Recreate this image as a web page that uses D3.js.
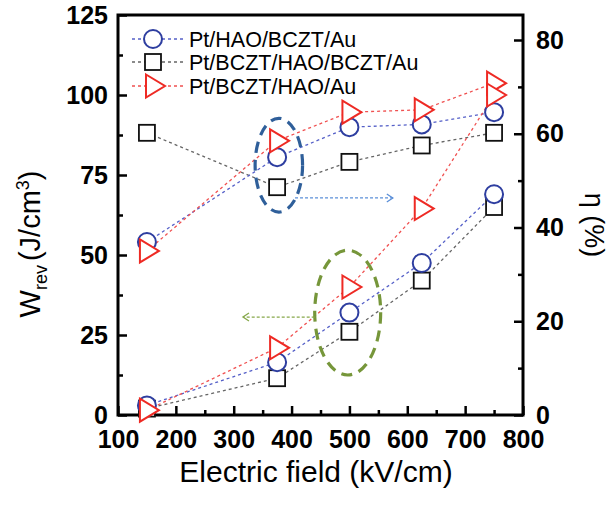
<!DOCTYPE html>
<html>
<head>
<meta charset="utf-8">
<script src="https://cdn.jsdelivr.net/npm/d3@7"></script>
<style>
  body { margin: 0; background: #fff; }
  svg { font-family: "Liberation Sans", Arial, sans-serif; }
  .tick text { font-weight: bold; font-size: 25px; fill: #000; }
  .tick line { stroke: #000; stroke-width: 2.5; }
  .domain { display: none; }
</style>
</head>
<body>
<div id="chart"></div>
<script>
// field values (kV/cm)
const fieldKV = [150, 375, 500, 625, 750];
const seriesNames = ["Pt/HAO/BCZT/Au", "Pt/BCZT/HAO/BCZT/Au", "Pt/BCZT/HAO/Au"];

// recoverable energy density W_rev (J/cm3), left axis
const wrevHaoBczt = [3, 16.5, 32, 47.5, 69];
const wrevSandwich = [2, 11.5, 26, 42, 65];
const wrevBcztHao = [1.5, 21, 40, 64.5, 100];

// efficiency eta (%), right axis
const etaHaoBczt = [36.9, 55.0, 61.4, 62, 64.6];
const etaSandwich = [60.2, 48.6, 54.0, 57.5, 60.2];
const etaBcztHao = [35.0, 58.5, 64.6, 65.1, 70.8];

// tick values
const xMajor = [100, 200, 300, 400, 500, 600, 700, 800];
const xMinor = [150, 250, 350, 450, 550, 650, 750];
const wMajor = [0, 25, 50, 75, 100, 125];
const wMinor = [12.5, 37.5, 62.5, 87.5, 112.5];
const etaMajor = [0, 20, 40, 60, 80];
const etaMinor = [10, 30, 50, 70];

// annotations (data units)
const etaOval = { field: 378, eta: 53.3, rField: 41, rEta: 10 };
const wOval = { field: 497, w: 32, rField: 57, rW: 19.5 };
const etaArrow = { from: 406, to: 575, eta: 46.3 };
const wArrow = { from: 440, to: 316, w: 30.6 };

const width = 612, height = 510;
const margin = { top: 15, right: 89, bottom: 95, left: 118 };

const svg = d3.select("#chart").append("svg")
  .attr("width", width)
  .attr("height", height);

const x = d3.scaleLinear().domain([100, 800]).range([margin.left, width - margin.right]);
const yL = d3.scaleLinear().domain([0, 125]).range([height - margin.bottom, margin.top]);
const yR = d3.scaleLinear().domain([0, 80 * 400 / 375]).range([height - margin.bottom, margin.top]);

const x0 = margin.left, x1 = width - margin.right;
const y0 = height - margin.bottom, y1 = margin.top;

// axes (ticks pointing inward)
svg.append("g").attr("transform", `translate(0,${y0})`)
  .call(d3.axisBottom(x).tickValues(xMajor).tickSize(-9).tickPadding(15).tickFormat(d3.format("d")));
svg.append("g").attr("transform", `translate(0,${y0})`)
  .call(d3.axisBottom(x).tickValues(xMinor).tickSize(-5).tickFormat(""));

svg.append("g").attr("transform", `translate(${x0},0)`)
  .call(d3.axisLeft(yL).tickValues(wMajor).tickSize(-9).tickPadding(10).tickFormat(d3.format("d")));
svg.append("g").attr("transform", `translate(${x0},0)`)
  .call(d3.axisLeft(yL).tickValues(wMinor).tickSize(-5).tickFormat(""));

svg.append("g").attr("transform", `translate(${x1},0)`)
  .call(d3.axisRight(yR).tickValues(etaMajor).tickSize(-9).tickPadding(13).tickFormat(d3.format("d")));
svg.append("g").attr("transform", `translate(${x1},0)`)
  .call(d3.axisRight(yR).tickValues(etaMinor).tickSize(-5).tickFormat(""));

// frame
svg.append("rect")
  .attr("x", x0).attr("y", y1)
  .attr("width", x1 - x0).attr("height", y0 - y1)
  .attr("fill", "none").attr("stroke", "#000").attr("stroke-width", 3);

// axis titles
svg.append("text")
  .attr("x", 316).attr("y", 482)
  .attr("text-anchor", "middle")
  .style("font-size", "30px")
  .text("Electric field (kV/cm)");

const lt = svg.append("text")
  .attr("transform", "translate(40,244) rotate(-90)")
  .attr("text-anchor", "middle")
  .style("font-size", "29px");
lt.append("tspan").text("W");
lt.append("tspan").attr("dy", 7).style("font-size", "18px").text("rev");
lt.append("tspan").attr("dy", -7).attr("dx", 4).text("(J/cm");
lt.append("tspan").attr("dy", -11).style("font-size", "18px").text("3");
lt.append("tspan").attr("dy", 11).text(")");

svg.append("text")
  .attr("transform", "translate(585,225) rotate(90)")
  .attr("text-anchor", "middle")
  .style("font-size", "27px")
  .text("η (%)");

// markers
const red = "#ee2a24", blue = "#2e3ea0", black = "#111";
function drawMarker(g, kind, cx, cy) {
  if (kind === "circle") {
    g.append("circle").attr("cx", cx).attr("cy", cy).attr("r", 9)
      .attr("fill", "#fff").attr("stroke", blue).attr("stroke-width", 2);
  } else if (kind === "square") {
    g.append("rect").attr("x", cx - 8).attr("y", cy - 8).attr("width", 16).attr("height", 16)
      .attr("fill", "#fff").attr("stroke", black).attr("stroke-width", 1.8);
  } else {
    g.append("path")
      .attr("d", `M${cx - 7},${cy - 11.5}L${cx + 12},${cy}L${cx - 7},${cy + 11.5}Z`)
      .attr("fill", "#fff").attr("stroke", red).attr("stroke-width", 2);
  }
}

const series = [
  { kind: "square", w: wrevSandwich, eta: etaSandwich, line: "#666" },
  { kind: "circle", w: wrevHaoBczt, eta: etaHaoBczt, line: "#5560c8" },
  { kind: "triangle", w: wrevBcztHao, eta: etaBcztHao, line: "#f05050" }
];

const lineW = d3.line().x((d, i) => x(fieldKV[i])).y(d => yL(d));
const lineE = d3.line().x((d, i) => x(fieldKV[i])).y(d => yR(d));

const lines = svg.append("g");
series.forEach(s => {
  [[s.w, lineW], [s.eta, lineE]].forEach(([vals, gen]) => {
    lines.append("path").attr("d", gen(vals))
      .attr("fill", "none").attr("stroke", s.line)
      .attr("stroke-width", 1.3).attr("stroke-dasharray", "3,3");
  });
});

const marks = svg.append("g");
series.forEach(s => {
  fieldKV.forEach((f, i) => drawMarker(marks, s.kind, x(f), yR(s.eta[i])));
});
series.forEach(s => {
  fieldKV.forEach((f, i) => drawMarker(marks, s.kind, x(f), yL(s.w[i])));
});

// ovals and arrows
svg.append("ellipse")
  .attr("cx", x(etaOval.field)).attr("cy", yR(etaOval.eta))
  .attr("rx", x(etaOval.field + etaOval.rField) - x(etaOval.field))
  .attr("ry", yR(etaOval.eta - etaOval.rEta) - yR(etaOval.eta))
  .attr("fill", "none").attr("stroke", "#2f5f9a").attr("stroke-width", 3.2)
  .attr("stroke-dasharray", "11,7");
svg.append("ellipse")
  .attr("cx", x(wOval.field)).attr("cy", yL(wOval.w))
  .attr("rx", x(wOval.field + wOval.rField) - x(wOval.field))
  .attr("ry", yL(wOval.w - wOval.rW) - yL(wOval.w))
  .attr("fill", "none").attr("stroke", "#76963a").attr("stroke-width", 3.2)
  .attr("stroke-dasharray", "11,7");

function arrow(xa, xb, yy, color) {
  const dir = xb > xa ? 1 : -1;
  svg.append("line").attr("x1", xa).attr("x2", xb).attr("y1", yy).attr("y2", yy)
    .attr("stroke", color).attr("stroke-width", 1.3).attr("stroke-dasharray", "3,2");
  svg.append("path")
    .attr("d", `M${xb - dir * 6},${yy - 4}L${xb},${yy}L${xb - dir * 6},${yy + 4}`)
    .attr("fill", "none").attr("stroke", color).attr("stroke-width", 1.3);
}
arrow(x(etaArrow.from), x(etaArrow.to), yR(etaArrow.eta), "#5b8fd8");
arrow(x(wArrow.from), x(wArrow.to), yL(wArrow.w), "#86a84a");

// legend
const legend = svg.append("g");
const legendKinds = ["circle", "square", "triangle"];
const legendLines = ["#5560c8", "#666", "#f05050"];
const rowY = [39, 62, 86];
seriesNames.forEach((name, i) => {
  legend.append("line").attr("x1", 132).attr("x2", 185).attr("y1", rowY[i]).attr("y2", rowY[i])
    .attr("stroke", legendLines[i]).attr("stroke-width", 1.3).attr("stroke-dasharray", "3,3");
  drawMarker(legend, legendKinds[i], 153, rowY[i]);
  legend.append("text").attr("x", 189).attr("y", rowY[i] + 8)
    .style("font-size", "21.5px").text(name);
});
</script>
</body>
</html>
